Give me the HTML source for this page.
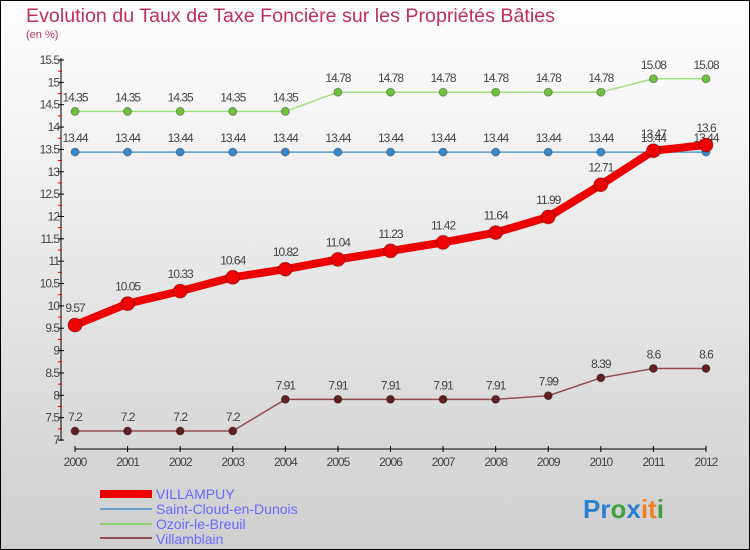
<!DOCTYPE html>
<html><head><meta charset="utf-8"><style>
html,body{margin:0;padding:0;width:750px;height:550px;overflow:hidden}
svg{display:block;font-family:"Liberation Sans",sans-serif}
</style></head><body>
<svg id="chart" width="750" height="550" xmlns="http://www.w3.org/2000/svg">
<defs><linearGradient id="bg" x1="0" y1="0" x2="0" y2="1"><stop offset="0" stop-color="#ffffff"/><stop offset="1" stop-color="#cfcfcf"/></linearGradient></defs>
<rect x="0.5" y="0.5" width="749" height="549" fill="url(#bg)" stroke="#000"/>
<text x="26" y="22" font-size="19" fill="#c0305a" textLength="529" lengthAdjust="spacingAndGlyphs">Evolution du Taux de Taxe Foncière sur les Propriétés Bâties</text>
<text x="26" y="38" font-size="11" fill="#c0305a">(en %)</text>
<g id="axes"></g>
<g id="series"></g>
<g id="legend">
<rect x="100" y="490" width="52" height="8" fill="#e00"/>
<text x="156" y="499" font-size="14" fill="#6a6aff">VILLAMPUY</text>
<rect x="100" y="508" width="52" height="2" fill="#6ea0c8"/>
<text x="156" y="514" font-size="14" fill="#6a6aff">Saint-Cloud-en-Dunois</text>
<rect x="100" y="523" width="52" height="2" fill="#90d070"/>
<text x="156" y="529" font-size="14" fill="#6a6aff">Ozoir-le-Breuil</text>
<rect x="100" y="537" width="52" height="2" fill="#8a5050"/>
<text x="156" y="544" font-size="14" fill="#6a6aff">Villamblain</text>
</g>
<g font-size="26" font-weight="bold">
<text x="583" y="518"><tspan fill="#2a80d0">Pr</tspan><tspan fill="#40a040">o</tspan><tspan fill="#2a80d0">x</tspan><tspan fill="#f08020">it</tspan><tspan fill="#40a040">i</tspan></text>
</g>
</svg>
<script>
const years=[2000,2001,2002,2003,2004,2005,2006,2007,2008,2009,2010,2011,2012];
const yTicks=[7,7.5,8,8.5,9,9.5,10,10.5,11,11.5,12,12.5,13,13.5,14,14.5,15,15.5];
const villampuy=[9.57,10.05,10.33,10.64,10.82,11.04,11.23,11.42,11.64,11.99,12.71,13.47,13.6];
const saintCloud=[13.44,13.44,13.44,13.44,13.44,13.44,13.44,13.44,13.44,13.44,13.44,13.44,13.44];
const ozoir=[14.35,14.35,14.35,14.35,14.35,14.78,14.78,14.78,14.78,14.78,14.78,15.08,15.08];
const villamblain=[7.2,7.2,7.2,7.2,7.91,7.91,7.91,7.91,7.91,7.99,8.39,8.6,8.6];
const NS='http://www.w3.org/2000/svg';
const X=i=>75+i*(706-75)/12;
const Y=v=>440-(v-7)*(380/8.5);
function el(t,a,p){const e=document.createElementNS(NS,t);for(const k in a)e.setAttribute(k,a[k]);p.appendChild(e);return e;}
const ax=document.getElementById('axes');
const yl=el('line',{x1:61,y1:58,x2:61,y2:441,stroke:'#000'},ax);


yTicks.forEach((v,i)=>{
 el('line',{x1:58,y1:Y(v),x2:64,y2:Y(v),stroke:'#000'},ax);
 if(i<yTicks.length-1) el('line',{x1:58,y1:Y(v+0.25),x2:62,y2:Y(v+0.25),stroke:'#e00'},ax);
 const t=el('text',{x:59,y:Y(v)+4,'font-size':12,fill:'#444','text-anchor':'end','letter-spacing':'-1'},ax);
 t.textContent=String(v);
 
 
});
const xl=el('line',{x1:75,y1:449,x2:706,y2:449,stroke:'#000'},ax);


years.forEach((y,i)=>{
 el('line',{x1:X(i),y1:446,x2:X(i),y2:452,stroke:'#000'},ax);
 const t=el('text',{x:X(i),y:466,'font-size':12,fill:'#444','text-anchor':'middle','letter-spacing':'-1'},ax);
 t.textContent=String(y);
 
 
});
const sg=document.getElementById('series');
function draw(vals,name,color,lw,r,dot){
 const g=el('g',{},sg);
 
 
 const pl=el('polyline',{points:vals.map((v,i)=>X(i)+','+Y(v)).join(' '),fill:'none',stroke:color,'stroke-width':lw,'stroke-linejoin':'round'},g);
 
 
 vals.forEach((v,i)=>{
  const c=el('circle',{cx:X(i),cy:Y(v),r:r,fill:dot,stroke:'rgba(0,0,0,0.3)'},g);
  
  
  const t=el('text',{x:X(i),y:Y(v)-r-6,'font-size':12,fill:'#444','text-anchor':'middle','letter-spacing':'-1'},g);
  t.textContent=String(v);
  
  
 });
}
draw(ozoir,'ozoir','#a0e080',1.5,4,'#70c040');
draw(saintCloud,'saint-cloud','#5a9ad0',1.5,4,'#3a88c8');
draw(villamblain,'villamblain','#905050',1.5,4,'#602020');
draw(villampuy,'villampuy','#ee0000',8,7,'#ee0000');
</script>
</body></html>
